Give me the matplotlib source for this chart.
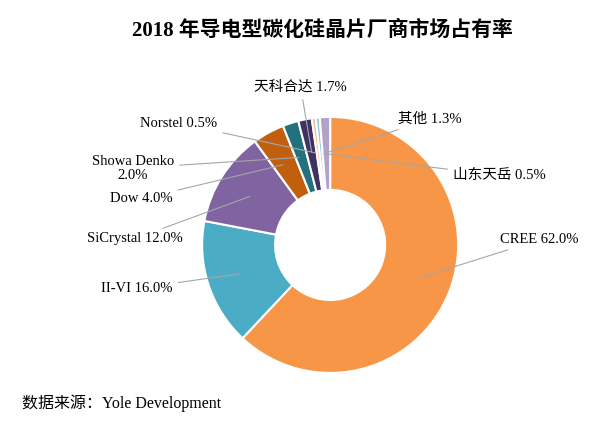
import numpy as np
import matplotlib.pyplot as plt

plt.rcParams['font.family'] = ['Liberation Serif', 'Noto Sans CJK SC', 'DejaVu Sans']

names = ['CREE', 'II-VI', 'SiCrystal', 'Dow', 'Showa Denko', '天科合达', 'Norstel', '山东天岳', '其他']
shares = [62.0, 16.0, 12.0, 4.0, 2.0, 1.7, 0.5, 0.5, 1.3]
colors = ['#f79646', '#4bacc6', '#8064a2', '#c0600f', '#23707f', '#3f3163',
          '#fac090', '#93cddd', '#b3a2c7']
label_text = ['CREE 62.0%', 'II-VI 16.0%', 'SiCrystal 12.0%', 'Dow 4.0%', 'Showa Denko\n2.0%',
              '天科合达 1.7%', 'Norstel 0.5%', '山东天岳 0.5%', '其他 1.3%']
# label anchor positions (data units) and alignment
label_pos = [(1.33, 0.04, 'left'), (-1.23, -0.34, 'right'), (-1.15, 0.05, 'right'),
             (-1.23, 0.36, 'right'), (-1.54, 0.6, 'center'), (-0.23, 1.23, 'center'),
             (-0.88, 0.95, 'right'), (0.96, 0.54, 'left'), (0.53, 0.98, 'left')]

fig = plt.figure(figsize=(5.97, 4.23), dpi=100)
ax = fig.add_axes([0.553 - 0.2144, 0.421 - 0.3026, 0.4288, 0.6052])
wedges, _ = ax.pie(shares, colors=colors, startangle=90, counterclock=False,
                   wedgeprops=dict(width=0.57, edgecolor='white', linewidth=1.5))
ax.set_xlim(-1, 1)
ax.set_ylim(-1, 1)
ax.set_aspect('equal')

for w, txt, (tx, ty, ha) in zip(wedges, label_text, label_pos):
    ang = np.deg2rad((w.theta1 + w.theta2) / 2)
    px, py = 0.72 * np.cos(ang), 0.72 * np.sin(ang)
    ax.annotate(txt, xy=(px, py), xytext=(tx, ty), ha=ha, va='center', fontsize=10.5,
                annotation_clip=False, linespacing=1.1,
                arrowprops=dict(arrowstyle='-', color='#a6a6a6', lw=0.8))

fig.text(0.54, 0.928, '2018 年导电型碳化硅晶片厂商市场占有率', ha='center', va='center',
         fontsize=15, fontweight='bold')
fig.text(0.037, 0.047, '数据来源：Yole Development', ha='left', va='center', fontsize=11.5)

fig.savefig('out.png', dpi=100)
